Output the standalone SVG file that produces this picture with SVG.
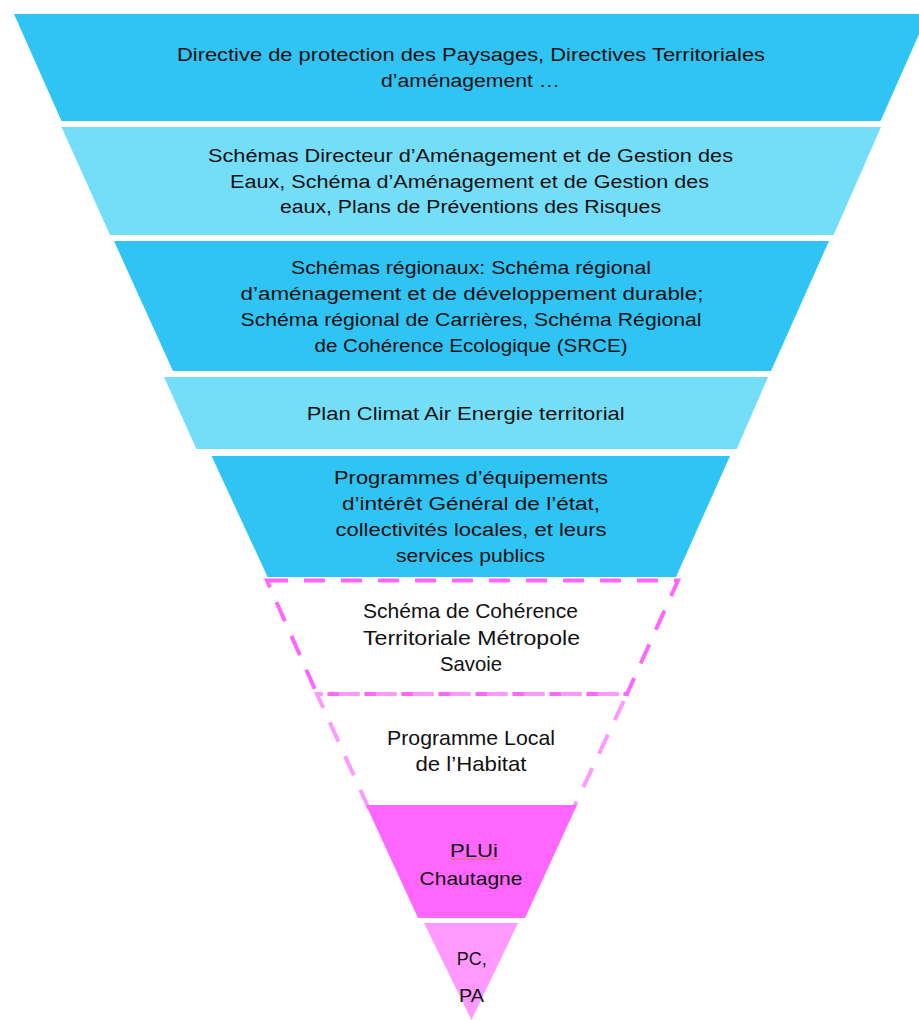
<svg xmlns="http://www.w3.org/2000/svg" width="919" height="1020" viewBox="0 0 919 1020">
<style>
.dark{fill:#2FC4F4;}
.light{fill:#74DEF8;}
.t{font-family:"Liberation Sans",Arial,sans-serif;font-size:18px;fill:#111;text-anchor:middle;}
.tp{font-family:"Liberation Sans",Arial,sans-serif;font-size:21px;fill:#111;text-anchor:middle;}
.ts{font-family:"Liberation Sans",Arial,sans-serif;font-size:19px;fill:#111;text-anchor:middle;}
.dash1{fill:none;stroke:#FF66FF;stroke-width:4;stroke-dasharray:21 16;}
.dash2{fill:none;stroke:#FF99FF;stroke-width:4;stroke-dasharray:21 16;}
</style>
<rect width="919" height="1020" fill="#fff"/>
<g id="band1">
<polygon class="dark" points="14,14 928,14 880.5,121 61.5,121"/>
<text class="t" x="471" y="61" textLength="588" lengthAdjust="spacingAndGlyphs">Directive de protection des Paysages, Directives Territoriales</text>
<text class="t" x="470.5" y="87" textLength="179" lengthAdjust="spacingAndGlyphs">d’aménagement …</text>
</g>
<g id="band2">
<polygon class="light" points="61.5,127 881,127 833.6,235 110,235"/>
<text class="t" x="470.5" y="162" textLength="525" lengthAdjust="spacingAndGlyphs">Schémas Directeur d’Aménagement et de Gestion des</text>
<text class="t" x="469.5" y="188" textLength="479" lengthAdjust="spacingAndGlyphs">Eaux, Schéma d’Aménagement et de Gestion des</text>
<text class="t" x="470.5" y="213" textLength="381" lengthAdjust="spacingAndGlyphs">eaux, Plans de Préventions des Risques</text>
</g>
<g id="band3">
<polygon class="dark" points="114,241 829,241 771,371 173,371"/>
<text class="t" x="471" y="274" textLength="360" lengthAdjust="spacingAndGlyphs">Schémas régionaux: Schéma régional</text>
<text class="t" x="472" y="300" textLength="463" lengthAdjust="spacingAndGlyphs">d’aménagement et de développement durable;</text>
<text class="t" x="471" y="326" textLength="461" lengthAdjust="spacingAndGlyphs">Schéma régional de Carrières, Schéma Régional</text>
<text class="t" x="471" y="352" textLength="313" lengthAdjust="spacingAndGlyphs">de Cohérence Ecologique (SRCE)</text>
</g>
<g id="band4">
<polygon class="light" points="164,377 768,377 736.8,449 196.4,449"/>
<text class="t" x="465.7" y="420" textLength="318" lengthAdjust="spacingAndGlyphs">Plan Climat Air Energie territorial</text>
</g>
<g id="band5">
<polygon class="dark" points="211.6,456 730,456 676,577 267.6,577"/>
<text class="t" x="471" y="484" textLength="274" lengthAdjust="spacingAndGlyphs">Programmes d’équipements</text>
<text class="t" x="471" y="510" textLength="258" lengthAdjust="spacingAndGlyphs">d’intérêt Général de l’état,</text>
<text class="t" x="471" y="536" textLength="271" lengthAdjust="spacingAndGlyphs">collectivités locales, et leurs</text>
<text class="t" x="470.5" y="562" textLength="149" lengthAdjust="spacingAndGlyphs">services publics</text>
</g>
<g id="scot">
<polygon class="dash1" points="267,580.5 678,580.5 627,694 317,694"/>
<text class="tp" x="470.5" y="618" textLength="215" lengthAdjust="spacingAndGlyphs">Schéma de Cohérence</text>
<text class="tp" x="471.5" y="645" textLength="217" lengthAdjust="spacingAndGlyphs">Territoriale Métropole</text>
<text class="tp" x="471" y="671" textLength="62" lengthAdjust="spacingAndGlyphs">Savoie</text>
</g>
<g id="plh">
<path class="dash2" d="M369,809 L317,694 L627,694 L573,809"/>
<text class="tp" x="471" y="745" textLength="168" lengthAdjust="spacingAndGlyphs">Programme Local</text>
<text class="tp" x="471" y="771" textLength="111" lengthAdjust="spacingAndGlyphs">de l’Habitat</text>
</g>
<g id="plui">
<polygon fill="#FF66FF" points="366,805 577,805 525,918 418,918"/>
<text class="ts" x="474" y="857" textLength="48" lengthAdjust="spacingAndGlyphs">PLUi</text>
<line x1="450" y1="859" x2="498" y2="859" stroke="#E8706E" stroke-width="1"/>
<text class="ts" x="471" y="885" textLength="103" lengthAdjust="spacingAndGlyphs">Chautagne</text>
</g>
<g id="pcpa">
<polygon fill="#FF99FF" points="424,923 518,923 471.5,1020"/>
<text class="ts" x="471.7" y="965" textLength="30" lengthAdjust="spacingAndGlyphs">PC,</text>
<text class="ts" x="471.5" y="1002" textLength="25" lengthAdjust="spacingAndGlyphs">PA</text>
</g>
<g id="connectors"></g>
</svg>
